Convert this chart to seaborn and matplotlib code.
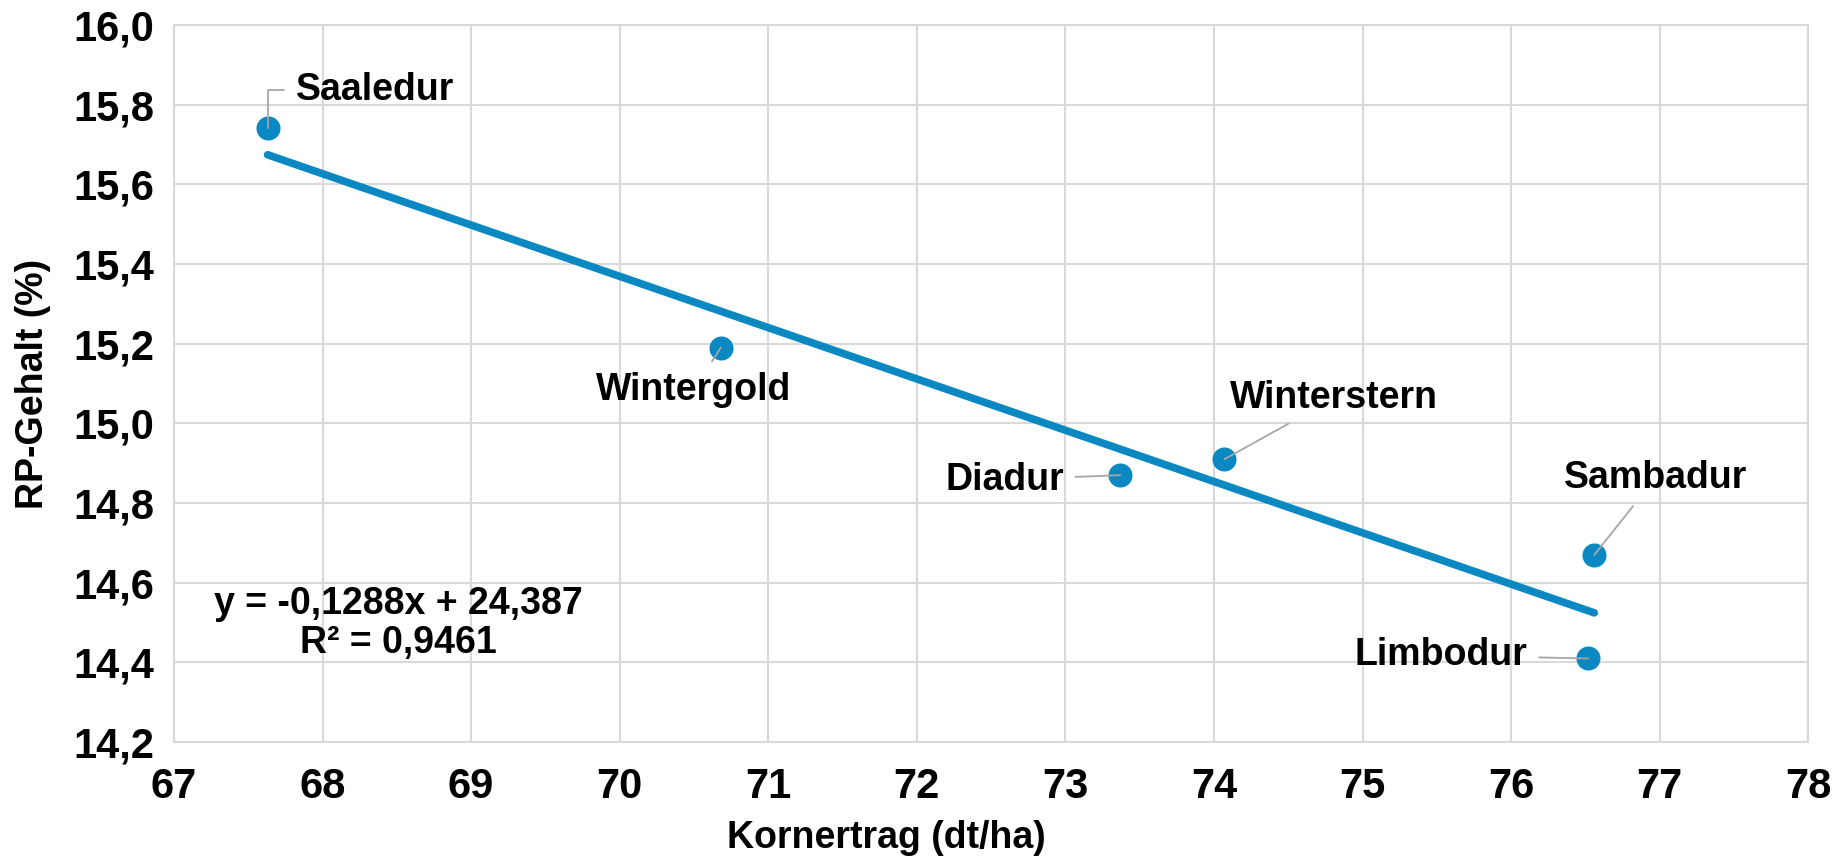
#! /usr/bin/env python3

import numpy as np
import pandas as pd
import seaborn as sns, matplotlib.pyplot as plt
from matplotlib.ticker import FuncFormatter

sns.set(style="whitegrid")
plt.rcParams['font.family'] = ['Liberation Sans', 'DejaVu Sans']
plt.rcParams['font.weight'] = 'bold'
plt.rcParams['text.color'] = 'black'
plt.rcParams['axes.labelcolor'] = 'black'
plt.rcParams['xtick.color'] = 'black'
plt.rcParams['ytick.color'] = 'black'

# data
sorten = ["Saaledur", "Wintergold", "Diadur", "Winterstern", "Sambadur", "Limbodur"]
kornertrag = [67.63, 70.68, 73.37, 74.07, 76.56, 76.52]
rp_gehalt = [15.74, 15.19, 14.87, 14.91, 14.67, 14.41]

# label positions (data coords) and alignment
label_pos = [(67.82, 15.837), (70.50, 15.084), (72.99, 14.859),
             (74.81, 15.063), (76.97, 14.862), (76.11, 14.418)]
label_ha = ["left", "center", "right", "center", "center", "right"]

gleichung = "y = -0,1288x + 24,387\nR² = 0,9461"

blue = "#0A88C2"
grey = "#A6A6A6"

dataset = pd.DataFrame({"Sorte": sorten, "Kornertrag": kornertrag, "RP": rp_gehalt})

fig = plt.figure(figsize=(18.47, 8.58), dpi=100)
ax = fig.add_axes([0.0942, 0.135, 0.979 - 0.0942, 0.971 - 0.135])

sns.regplot(x="Kornertrag", y="RP", data=dataset, ci=None, ax=ax,
            scatter_kws=dict(s=300, color=blue, alpha=1, zorder=3, linewidths=0),
            line_kws=dict(color=blue, lw=5.5, solid_capstyle="round", zorder=2))

for i, (name, x, y, (tx, ty), ha) in enumerate(zip(sorten, kornertrag, rp_gehalt, label_pos, label_ha)):
    props = dict(arrowstyle="-", color=grey, lw=1.3, shrinkA=6, shrinkB=0)
    if i == 0:
        # Saaledur: elbow leader
        props.update(connectionstyle="angle,angleA=0,angleB=90,rad=0", relpos=(0, 0.5))
    ax.annotate(name, xy=(x, y), xytext=(tx, ty), ha=ha, va="center",
                fontsize=27, fontweight="bold", color="black", arrowprops=props)

ax.text(68.51, 14.497, gleichung, ha="center", va="center", fontsize=27,
        fontweight="bold", linespacing=1.1)

ax.set_xlim(67, 78)
ax.set_ylim(14.2, 16.0)
ax.set_xticks(np.arange(67, 79, 1))
ax.set_yticks(np.arange(14.2, 16.01, 0.2))
ax.yaxis.set_major_formatter(FuncFormatter(lambda v, p: f"{v:.1f}".replace(".", ",")))
ax.tick_params(axis="both", labelsize=30, length=0)
ax.tick_params(axis="x", pad=18)
ax.tick_params(axis="y", pad=14)
for lab in ax.get_xticklabels() + ax.get_yticklabels():
    lab.set_fontweight("bold")

ax.grid(True, color="#D9D9D9", lw=1.5)
for s in ax.spines.values():
    s.set_color("#D9D9D9")
    s.set_linewidth(1.5)

ax.set_xlabel("Kornertrag (dt/ha)", fontsize=27, fontweight="bold", labelpad=9)
ax.xaxis.label.set_x(0.436)
ax.set_ylabel("RP-Gehalt (%)", fontsize=27, fontweight="bold", labelpad=16)

plt.savefig("out.png", dpi=100, facecolor="white")
